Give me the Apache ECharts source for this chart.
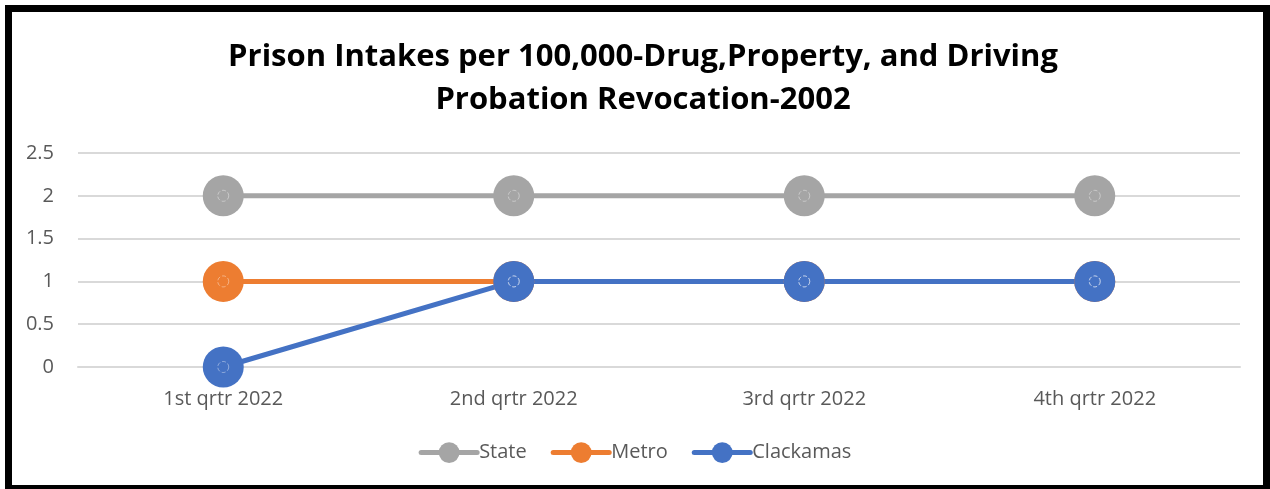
<!DOCTYPE html>
<html>
<head>
<meta charset="utf-8">
<script src="https://cdn.jsdelivr.net/npm/echarts@6/dist/echarts.min.js"></script>
<style>
  html, body { margin: 0; padding: 0; background: #fff; overflow: hidden; }
  #frame { position: absolute; left: 5px; top: 5px; width: 1265px; height: 487px; border: 7px solid #000; box-sizing: border-box; }
  #chart { position: absolute; left: 0; top: 0; width: 1270px; height: 489px; }
</style>
</head>
<body>
<div id="frame"></div>
<div id="chart"></div>
<script>
// Quarterly categories and intake rates per 100,000
const categories = ['1st qrtr 2022', '2nd qrtr 2022', '3rd qrtr 2022', '4th qrtr 2022'];
const stateValues = [2, 2, 2, 2];
const metroValues = [1, 1, 1, 1];
const clackamasValues = [0, 1, 1, 1];
const yTicks = [0, 0.5, 1, 1.5, 2, 2.5];

const seriesDefs = [
  { name: 'State', data: stateValues, color: '#A5A5A5' },
  { name: 'Metro', data: metroValues, color: '#ED7D31' },
  { name: 'Clackamas', data: clackamasValues, color: '#4472C4' }
];

const lineSeries = seriesDefs.map(s => ({
  name: s.name,
  type: 'line',
  data: s.data,
  symbol: 'circle',
  symbolSize: 41,
  lineStyle: { color: s.color, width: 5 },
  itemStyle: { color: s.color },
  emphasis: { disabled: true },
  z: 2
}));

// small dashed ring drawn inside each marker
const ringSeries = seriesDefs.map(s => ({
  name: s.name + ' ring',
  type: 'scatter',
  data: s.data,
  symbol: 'circle',
  symbolSize: 11,
  itemStyle: { color: 'rgba(0,0,0,0)', borderColor: 'rgba(255,255,255,0.5)', borderWidth: 1, borderType: 'dashed' },
  emphasis: { disabled: true },
  silent: true,
  z: 3
}));

const chart = echarts.init(document.getElementById('chart'), null, { renderer: 'canvas' });
chart.setOption({
  animation: false,
  title: {
    text: 'Prison Intakes per 100,000-Drug,Property, and Driving\nProbation Revocation-2002',
    left: 638,
    textAlign: 'center',
    top: 31,
    textStyle: { fontFamily: 'Open Sans', fontWeight: 'bold', fontSize: 31, color: '#000', lineHeight: 43 }
  },
  legend: {
    data: seriesDefs.map(s => s.name),
    bottom: 21,
    left: 'center',
    itemWidth: 56,
    itemHeight: 26,
    itemGap: 24,
    lineStyle: { width: 5, cap: 'round' },
    textStyle: { fontFamily: 'Open Sans', fontSize: 20, color: '#595959', padding: [0, 0, 0, -3] }
  },
  grid: { left: 78, right: 30, top: 153, bottom: 122, containLabel: false },
  xAxis: {
    type: 'category',
    data: categories,
    boundaryGap: true,
    axisLine: { show: true, lineStyle: { color: '#D9D9D9', width: 2 } },
    axisTick: { show: false },
    axisLabel: { fontFamily: 'Open Sans', fontSize: 20, color: '#595959', margin: 22 }
  },
  yAxis: {
    type: 'value',
    min: yTicks[0],
    max: yTicks[yTicks.length - 1],
    interval: 0.5,
    axisLine: { show: false },
    axisTick: { show: false },
    splitLine: { lineStyle: { color: '#D9D9D9', width: 2 } },
    axisLabel: { fontFamily: 'Open Sans', fontSize: 20, color: '#595959', margin: 24 }
  },
  series: lineSeries.concat(ringSeries)
});
</script>
</body>
</html>
